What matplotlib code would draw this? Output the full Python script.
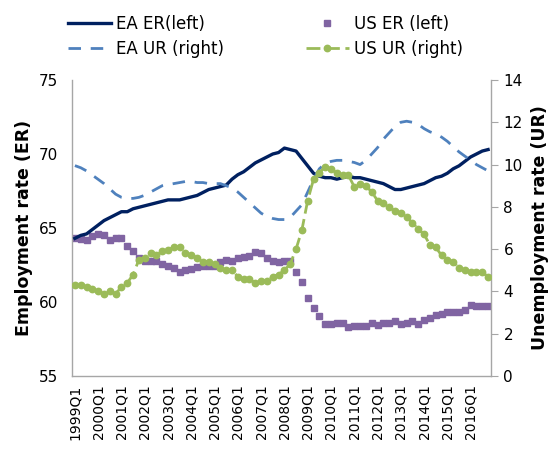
import matplotlib
matplotlib.use("Agg")
import matplotlib.pyplot as plt
import numpy as np

years = list(range(1999, 2017))
quarters = [f"{y}Q{q}" for y in years for q in range(1, 5)]
tick_labels = [f"{y}Q1" for y in years]

ea_er = [64.3, 64.5, 64.6, 64.9, 65.2, 65.5, 65.7, 65.9, 66.1, 66.1,
         66.3, 66.4, 66.5, 66.6, 66.7, 66.8, 66.9, 66.9, 66.9, 67.0,
         67.1, 67.2, 67.4, 67.6, 67.7, 67.8, 67.9, 68.3, 68.6, 68.8,
         69.1, 69.4, 69.6, 69.8, 70.0, 70.1, 70.4, 70.3, 70.2, 69.7,
         69.2, 68.7, 68.5, 68.4, 68.4, 68.3, 68.4, 68.5, 68.4, 68.4,
         68.3, 68.2, 68.1, 68.0, 67.8, 67.6, 67.6, 67.7, 67.8, 67.9,
         68.0, 68.2, 68.4, 68.5, 68.7, 69.0, 69.2, 69.5, 69.8, 70.0,
         70.2, 70.3]

ea_ur = [9.95, 9.85, 9.7, 9.5, 9.3, 9.1, 8.85, 8.6, 8.45, 8.4,
         8.4, 8.45, 8.55, 8.7, 8.85, 9.0, 9.05, 9.1, 9.15, 9.2,
         9.2, 9.15, 9.15, 9.1, 9.1, 9.1, 9.0, 8.9, 8.7, 8.45,
         8.2, 7.95, 7.7, 7.55, 7.45, 7.4, 7.4, 7.5, 7.8, 8.1,
         8.7, 9.3, 9.8, 10.05, 10.15, 10.2, 10.2, 10.15, 10.1, 10.0,
         10.2, 10.5, 10.8, 11.2, 11.5, 11.8, 12.0, 12.05, 12.0, 11.9,
         11.7, 11.55, 11.45, 11.3, 11.1, 10.85, 10.6, 10.4, 10.2, 10.0,
         9.85, 9.7]

us_er = [64.3, 64.25, 64.2, 64.45, 64.6, 64.55, 64.2, 64.3, 64.35, 63.8,
         63.45, 63.0, 62.8, 62.75, 62.75, 62.55, 62.45, 62.3, 62.05, 62.15,
         62.25, 62.35, 62.4, 62.4, 62.4, 62.7, 62.85, 62.75, 62.95, 63.05,
         63.1, 63.35, 63.3, 62.95, 62.8, 62.7, 62.75, 62.75, 62.05, 61.35,
         60.3, 59.6, 59.05, 58.5, 58.5, 58.6, 58.55, 58.3, 58.4, 58.35,
         58.35, 58.55, 58.45, 58.55, 58.55, 58.7, 58.5, 58.6, 58.7, 58.5,
         58.8, 58.95, 59.1, 59.2, 59.3, 59.35, 59.35, 59.45, 59.8, 59.7,
         59.75, 59.7]

us_ur = [4.3, 4.3, 4.2, 4.1, 4.0, 3.9, 4.0, 3.9, 4.2, 4.4,
         4.8, 5.5, 5.6, 5.8, 5.7, 5.9, 5.95, 6.1, 6.1, 5.8,
         5.7, 5.6, 5.4, 5.4, 5.3, 5.1, 5.0, 5.0, 4.7, 4.6,
         4.6, 4.4, 4.5, 4.5, 4.7, 4.8, 5.0, 5.3, 6.0, 6.9,
         8.3, 9.3, 9.6, 9.9, 9.8, 9.6, 9.5, 9.5, 8.95, 9.1,
         9.0, 8.7, 8.3, 8.2, 8.0, 7.8, 7.7, 7.5, 7.25, 6.95,
         6.7, 6.2, 6.1, 5.7, 5.5, 5.4, 5.1, 5.0, 4.9, 4.9,
         4.9, 4.7]

NAVY = "#002060"
LBLUE = "#4F81BD"
PURPLE = "#8064A2"
GREEN = "#9BBB59"
GRID = "#A6A6A6"

plt.rcParams['font.family'] = ['DejaVu Sans']
fig = plt.figure(figsize=(5.53, 4.5), dpi=100)
ax = fig.add_axes([72/553, 1-376/450, (491-72)/553, (376-80)/450])
ax2 = ax.twinx()

x = np.arange(len(quarters))

l1, = ax.plot(x, ea_er, color=NAVY, lw=2.4, label="EA ER(left)", zorder=3)
l3, = ax.plot(x, us_er, ls='none', marker='s', ms=4.2, color=PURPLE,
              label="US ER (left)", zorder=2)
l2, = ax2.plot(x, ea_ur, color=LBLUE, lw=2.0, ls=(0, (4.5, 3.5)),
               label="EA UR (right)", zorder=2)
l4, = ax2.plot(x, us_ur, color=GREEN, lw=2.0, ls=(0, (5, 2)),
               marker='o', ms=4.6, label="US UR (right)", zorder=3)

ax.set_xlim(-0.5, len(quarters) - 0.5)
ax.set_ylim(55, 75)
ax.set_yticks([55, 60, 65, 70, 75])
ax2.set_ylim(0, 14)
ax2.set_yticks(range(0, 15, 2))

ax.set_xticks(x[::4])
ax.set_xticklabels(tick_labels, rotation=90, fontsize=10)
ax.tick_params(axis='x', length=0, pad=6)
ax.tick_params(axis='y', length=0, labelsize=11, pad=10)
ax2.tick_params(axis='y', direction='out', length=5, color=GRID,
                labelsize=11, pad=4)

for a in (ax, ax2):
    a.spines['top'].set_visible(False)
    for s in ('left', 'right', 'bottom'):
        a.spines[s].set_color(GRID)
        a.spines[s].set_linewidth(1.0)
ax.spines['right'].set_visible(False)
ax2.spines['left'].set_visible(False)
ax2.spines['bottom'].set_visible(False)

ax.set_ylabel("Employment rate (ER)", fontsize=12.5, fontweight='bold', labelpad=4)
ax2.set_ylabel("Unemployment rate (UR)", fontsize=12.5, fontweight='bold', labelpad=6)

fig.legend(handles=[l1, l2, l3, l4], loc='upper left',
           bbox_to_anchor=(61/553, 1-8/450), ncol=2, frameon=False,
           fontsize=12, handlelength=2.6, handletextpad=0.3,
           columnspacing=4.9, labelspacing=0.45, numpoints=1,
           borderaxespad=0)

fig.savefig("out.png", dpi=100)
